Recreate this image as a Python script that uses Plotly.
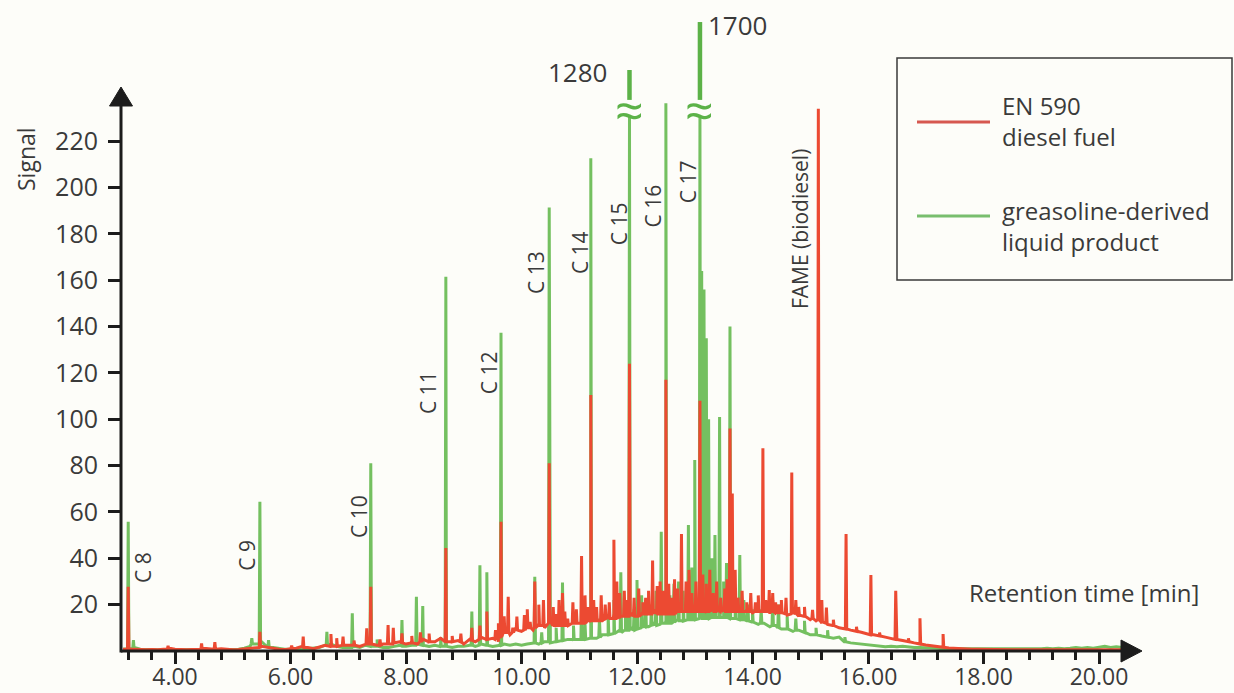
import numpy as np
import plotly.graph_objects as go

# ---------------- data ----------------
base_t = [round(3.1 + 0.1 * i, 2) for i in range(174)]   # sampling grid 3.1 .. 20.4 min

red_base = [0.8, 1.0, 0.8, 0.6, 0.5, 0.6, 0.5, 0.8, 1.2,
            0.8, 0.6, 0.5, 0.6, 0.8, 1.2, 0.8, 1.5, 1.0, 0.6,
            0.5, 0.6, 0.8, 1.0, 1.2, 2.0, 1.5, 1.0, 0.8, 0.6,
            1.0, 1.2, 2.0, 1.5, 1.0, 1.8, 2.5, 3.0, 2.0, 3.0,
            2.5, 3.5, 2.0, 3.0, 4.0, 2.5, 3.0, 2.5, 3.5, 4.0,
            3.0, 4.5, 3.0, 5.0, 3.5, 4.0, 5.5, 4.0, 3.5, 4.5,
            3.0, 5.0, 4.0, 6.0, 4.5, 5.5, 4.0, 9.0, 7.0, 10.0,
            8.5, 11.0, 9.0, 12.0, 10.0, 13.0, 10.5, 12.0, 11.0, 13.5,
            12.0, 14.0, 12.5, 15.0, 13.0, 14.5, 16.0, 14.0, 15.0, 16.5,
            15.0, 17.0, 15.5, 18.0, 16.0, 17.5, 16.0, 18.5, 17.0, 19.0,
            17.0, 18.5, 16.5, 19.0, 17.5, 18.0, 16.5, 18.5, 17.0, 18.0,
            16.5, 18.5, 17.0, 16.0, 18.0, 16.5, 15.5, 17.0, 15.0, 15.5,
            13.5, 13.0, 12.0, 11.5, 11.0, 10.0, 9.5, 9.0, 8.5, 8.0,
            7.5, 7.0, 6.5, 6.0, 5.5, 5.0, 4.5, 4.0, 3.5, 3.0,
            2.6, 2.2, 1.9, 1.6, 1.3, 1.1, 1.0, 0.9, 0.8, 0.8,
            0.7, 0.6, 0.6, 0.5, 0.5, 0.5, 0.5, 0.6, 0.5, 0.5,
            0.5, 0.5, 0.5, 0.6, 0.6, 0.5, 0.5, 0.5, 0.5, 0.5,
            0.5, 0.5, 0.6, 0.6, 0.5]

green_base = [0.8, 1.0, 1.5, 0.8, 0.6, 0.5, 0.5, 0.5, 0.5,
              0.5, 0.5, 0.6, 0.5, 0.5, 0.6, 0.5, 0.5, 0.6, 0.5,
              0.6, 0.8, 1.2, 2.0, 3.0, 4.0, 2.0, 1.5, 1.0, 0.8,
              0.8, 1.0, 0.8, 1.0, 1.2, 1.5, 2.5, 3.0, 2.0, 1.5,
              1.5, 2.0, 1.5, 2.5, 4.0, 2.0, 1.5, 1.5, 2.0, 2.5,
              2.0, 2.5, 3.0, 2.5, 2.0, 2.5, 3.0, 2.0, 1.5, 2.0,
              2.0, 2.5, 2.0, 3.0, 2.5, 2.0, 2.5, 3.0, 2.5, 3.0,
              2.5, 3.0, 3.5, 3.0, 4.0, 3.5, 4.5, 4.0, 5.0, 4.5,
              5.0, 5.5, 6.0, 5.5, 7.0, 7.5, 8.0, 9.0, 8.5, 10.0,
              9.5, 11.0, 10.5, 12.0, 11.5, 13.0, 12.0, 13.5, 12.5, 14.0,
              13.5, 15.0, 14.0, 15.5, 14.5, 15.0, 14.0, 14.5, 13.5, 13.0,
              12.5, 11.5, 12.0, 10.5, 11.0, 9.5, 10.0, 8.5, 9.0, 8.0,
              7.0, 7.5, 6.5, 6.0, 5.5, 6.0, 4.0, 3.5, 3.2, 3.0,
              2.6, 2.3, 2.0, 1.8, 2.0, 1.8, 2.0, 1.6, 1.5, 1.5,
              1.5, 1.2, 1.2, 1.0, 1.0, 1.0, 0.8, 0.8, 0.8, 0.8,
              0.8, 0.8, 0.8, 1.0, 0.8, 0.8, 1.0, 0.8, 1.0, 1.0,
              1.0, 1.2, 1.0, 1.2, 1.0, 1.2, 1.5, 1.2, 1.5, 1.2,
              1.5, 2.0, 1.5, 1.8, 1.5]

red_peak_t = [3.19, 3.88, 4.46, 4.69, 5.47, 6.02, 6.22, 6.70, 6.80, 6.91, 7.10, 7.32, 7.39,
              7.55, 7.69, 7.78, 7.93, 8.10, 8.25, 8.40, 8.69, 8.80, 8.95, 9.14, 9.28, 9.40,
              9.55, 9.645, 9.77, 9.85, 9.92, 10.05, 10.15, 10.23, 10.30, 10.48, 10.60, 10.71,
              10.80, 10.89, 10.95, 11.04, 11.20, 11.30, 11.45, 11.60, 11.70, 11.87, 11.95,
              12.10, 12.20, 12.27, 12.35, 12.50, 12.60, 12.70, 12.77, 12.85, 12.95, 13.09,
              13.20, 13.32, 13.45, 13.61, 13.65, 13.75, 13.90, 14.05, 14.18, 14.29, 14.40,
              14.50, 14.68, 14.80, 15.04, 15.14, 15.28, 15.40, 15.62, 15.80, 16.05, 16.20,
              16.48, 16.70, 16.90, 17.30]
red_peak_h = [27.7, 2.3, 3.3, 3.8, 8.3, 2.3, 6.2, 7.3, 5.5, 6.2, 4.5, 9.8, 27.7,
              5.0, 11.2, 10.0, 7.6, 6.5, 8.0, 7.5, 44.4, 6.5, 7.5, 10.0, 11.0, 17.0,
              9.0, 55.8, 23.4, 10.0, 14.8, 15.5, 12.5, 30.0, 20.0, 81.0, 16.0, 25.0,
              14.0, 21.0, 18.0, 41.0, 110.5, 19.0, 20.0, 48.0, 25.0, 124.0, 23.0,
              21.0, 26.0, 39.0, 28.0, 117.0, 23.0, 27.0, 50.5, 30.0, 25.0, 108.0,
              29.0, 25.0, 23.0, 96.0, 68.0, 23.0, 21.0, 21.0, 87.5, 26.3, 21.0,
              22.0, 77.0, 19.0, 17.7, 234.0, 18.7, 13.5, 50.5, 10.5, 32.8, 8.0,
              26.0, 5.5, 14.1, 7.3]
red_peak_foot = [0.8, 0.8, 0.6, 0.8, 1.5, 1.0, 1.5, 2.0, 2.0, 2.5, 2.5, 3.0, 3.0,
                 2.5, 3.0, 3.0, 3.5, 3.5, 4.0, 4.0, 4.0, 4.0, 4.0, 4.5, 5.0, 5.0,
                 5.0, 6.0, 8.0, 8.0, 9.0, 9.0, 10.0, 10.0, 11.0, 12.0, 11.0, 11.0,
                 11.0, 12.0, 12.0, 12.0, 13.0, 13.0, 14.0, 14.0, 15.0, 15.0, 15.0,
                 16.0, 16.0, 16.0, 16.0, 16.0, 16.0, 17.0, 17.0, 17.0, 17.0, 17.0,
                 17.0, 17.0, 17.0, 17.0, 17.0, 17.0, 17.0, 17.0, 17.0, 17.0, 16.5,
                 16.5, 16.0, 15.5, 14.0, 13.5, 12.0, 11.0, 9.5, 8.5, 7.0, 6.5,
                 5.0, 4.0, 3.0, 1.6]

# small "grass" spikes of the diesel trace
red_minor_t = [9.60, 9.70, 10.10, 10.38, 10.55, 10.65, 10.75, 11.10, 11.15, 11.25, 11.38,
               11.52, 11.65, 11.78, 11.83, 12.03, 12.15, 12.40, 12.45, 12.55, 12.65, 12.90,
               13.02, 13.14, 13.26, 13.38, 13.52, 13.56, 13.70, 13.82, 13.97, 14.10, 14.23,
               14.35, 14.45, 14.58, 14.75, 14.90, 15.20]
red_minor_h = [12, 15, 18, 22, 19, 22, 17, 24, 19, 22, 24,
               21, 30, 26, 22, 27, 23, 30, 26, 29, 31, 35,
               30, 33, 35, 30, 27, 31, 35, 26, 25, 24, 22,
               25, 20, 23, 22, 19, 22]
red_minor_foot = [6, 8, 10, 11, 11, 11, 11, 12, 13, 13, 13,
                  14, 14, 15, 15, 15, 16, 16, 16, 16, 16, 17,
                  17, 17, 17, 17, 17, 17, 17, 17, 17, 17, 17,
                  17, 16.5, 16, 16, 15, 12.5]

green_peak_t = [3.19, 3.28, 5.33, 5.47, 5.62, 6.63, 7.07, 7.39, 7.50, 7.93, 8.18, 8.29,
                8.60, 8.69, 9.14, 9.28, 9.40, 9.645, 10.23, 10.48, 10.71, 11.04, 11.20,
                11.72, 11.80, 11.87, 12.00, 12.15, 12.42, 12.50, 12.64, 12.89, 13.00,
                13.09, 13.12, 13.16, 13.20, 13.24, 13.30, 13.43, 13.50, 13.61, 13.78,
                14.00, 14.35, 14.60, 15.10, 15.30, 15.60]
green_peak_h = [55.8, 4.7, 5.5, 64.4, 4.7, 8.3, 16.3, 81.0, 5.0, 13.4, 23.4, 19.4,
                6.0, 161.5, 17.0, 37.0, 34.0, 137.3, 32.0, 191.4, 29.5, 20.0, 212.6,
                34.0, 20.0, 230.4, 30.6, 22.0, 51.5, 236.3, 29.0, 54.4, 82.4,
                230.4, 164.0, 156.0, 135.0, 100.0, 40.0, 101.0, 30.0, 140.0, 41.4,
                18.0, 22.0, 15.0, 10.0, 9.0, 6.0]
green_peak_foot = [1.0, 1.0, 3.0, 3.0, 1.5, 2.5, 1.5, 2.0, 2.0, 2.0, 2.5, 2.5,
                   2.0, 2.0, 2.5, 2.5, 2.5, 2.5, 3.5, 4.0, 4.5, 5.0, 5.5,
                   8.0, 9.0, 9.0, 9.5, 10.5, 12.0, 12.0, 12.5, 13.5, 13.5,
                   14.0, 14.0, 14.0, 14.0, 14.0, 14.5, 14.5, 14.5, 14.0, 13.5,
                   12.5, 11.0, 9.5, 7.0, 6.0, 4.0]

# small spikes of the greasoline-derived trace
green_minor_t = [10.35, 10.60, 10.90, 11.10, 11.35, 11.50, 11.60, 11.95, 12.08, 12.25, 12.33,
                 12.57, 12.72, 12.80, 12.95, 13.35, 13.55, 13.70, 13.85, 13.92, 14.15, 14.45,
                 14.75, 14.90]
green_minor_h = [8, 10, 11, 12, 14, 16, 22, 18, 24, 20, 26,
                 24, 30, 26, 36, 50, 38, 25, 22, 20, 18, 20,
                 14, 13]
green_minor_foot = [3.5, 4, 5, 5, 6, 7, 7.5, 9, 10, 11, 11,
                    12, 13, 13, 13.5, 14.5, 14.5, 14, 13.5, 13, 12, 10,
                    9, 8]

# off-scale peaks (drawn with an axis break)
break_t = [11.87, 13.09]
break_true = [1280, 1700]
break_stub_low = [237.8, 237.8]
break_stub_top = [250.7, 271.4]

peak_labels = ["C 8", "C 9", "C 10", "C 11", "C 12", "C 13", "C 14", "C 15", "C 16", "C 17",
               "FAME (biodiesel)"]
y_ticks = [20, 40, 60, 80, 100, 120, 140, 160, 180, 200, 220]

# ---------------- styling / layout constants ----------------
RED = "rgb(236,74,50)"
GREEN = "rgb(116,192,96)"
DARKGREEN = "rgb(92,178,72)"
INK = "#1c1c1c"
TXT = "#3a3a3a"
FONT = "Open Sans"
HALF = 0.012  # half-width of a drawn peak, minutes

label_x = [3.446, 5.242, 7.186, 8.381, 9.442, 10.251, 11.013, 11.694, 12.283, 12.889, 14.823]
label_y = [35.8, 41.4, 58.3, 111.3, 120.0, 163.1, 171.7, 184.3, 192.0, 202.4, 182.1]
value_label_x = [10.961, 13.732]
value_label_y = [249.8, 270.1]


def build(bt, by, peak_sets):
    pts = list(zip(bt, by))
    for pt, ph, pf in peak_sets:
        for t, h, f in zip(pt, ph, pf):
            pts += [(t - HALF, f), (t, h), (t + HALF, f)]
    pts.sort(key=lambda p: p[0])
    return [p[0] for p in pts], [p[1] for p in pts]


gx, gy = build(base_t, green_base, [(green_peak_t, green_peak_h, green_peak_foot),
                                    (green_minor_t, green_minor_h, green_minor_foot)])
rx, ry = build(base_t, red_base, [(red_peak_t, red_peak_h, red_peak_foot),
                                  (red_minor_t, red_minor_h, red_minor_foot)])

fig = go.Figure()
fig.add_trace(go.Scatter(x=gx, y=gy, mode="lines", line=dict(color=GREEN, width=3),
                         showlegend=False, hoverinfo="skip"))
fig.add_trace(go.Scatter(x=rx, y=ry, mode="lines", line=dict(color=RED, width=3),
                         showlegend=False, hoverinfo="skip"))
sx, sy = [], []
for t, lo, hi in zip(break_t, break_stub_low, break_stub_top):
    sx += [t, t, None]
    sy += [lo, hi, None]
fig.add_trace(go.Scatter(x=sx, y=sy, mode="lines", line=dict(color=DARKGREEN, width=4.5),
                         showlegend=False, hoverinfo="skip"))

# pixel geometry of the plot area
L, R, T, B = 121, 1145, 15, 651
W, H = 1234, 693
PXMIN = 57.75
PXUNIT = 2.3175
x0 = 4 - (175 - L) / PXMIN
x1 = x0 + (R - L) / PXMIN
y1 = (B - T) / PXUNIT


def px(xp):
    return (xp - L) / (R - L)


def py(yp):
    return (B - yp) / (B - T)


shapes = [
    dict(type="line", xref="paper", yref="paper", x0=0, x1=px(1123), y0=0, y1=0,
         line=dict(color=INK, width=3)),
    dict(type="path", xref="paper", yref="paper",
         path=f"M {px(1142)} 0 L {px(1121)} {11/(B-T)} L {px(1121)} {-11/(B-T)} Z",
         fillcolor=INK, line=dict(color=INK, width=1)),
    dict(type="line", xref="paper", yref="paper", x0=0, x1=0, y0=-1.5/(B-T), y1=py(104),
         line=dict(color=INK, width=3)),
    dict(type="path", xref="paper", yref="paper",
         path=f"M 0 {py(87)} L {11.5/(R-L)} {py(106)} L {-11.5/(R-L)} {py(106)} Z",
         fillcolor=INK, line=dict(color=INK, width=1)),
    # legend box
    dict(type="rect", xref="paper", yref="paper", x0=px(897), x1=px(1232), y0=py(280), y1=py(58),
         line=dict(color="#3a3a3a", width=1.5), fillcolor="rgba(0,0,0,0)"),
    dict(type="line", xref="paper", yref="paper", x0=px(917), x1=px(990), y0=py(122), y1=py(122),
         line=dict(color="rgb(214,88,80)", width=3)),
    dict(type="line", xref="paper", yref="paper", x0=px(917), x1=px(990), y0=py(216), y1=py(216),
         line=dict(color="rgb(120,190,110)", width=3)),
]

ann = []
for txt, xx, yy in zip(peak_labels, label_x, label_y):
    ann.append(dict(x=xx, y=yy, xref="x", yref="y", text=txt, showarrow=False, textangle=-90,
                    xanchor="center", yanchor="middle",
                    font=dict(family=FONT, size=21, color=TXT)))
for v, xx, yy in zip(break_true, value_label_x, value_label_y):
    ann.append(dict(x=xx, y=yy, xref="x", yref="y", text=str(v), showarrow=False,
                    xanchor="center", yanchor="middle",
                    font=dict(family=FONT, size=26, color=TXT)))
for t in break_t:
    ann.append(dict(x=t, y=233.5, xref="x", yref="y", text="≈", showarrow=False,
                    xanchor="center", yanchor="middle",
                    font=dict(family=FONT, size=50, color=DARKGREEN)))
ann += [
    dict(x=px(967), y=py(592), xref="paper", yref="paper", text="Retention time [min]",
         showarrow=False, xanchor="left", yanchor="middle",
         font=dict(family=FONT, size=24, color=TXT)),
    dict(x=px(26), y=py(159), xref="paper", yref="paper", text="Signal", showarrow=False,
         textangle=-90, xanchor="center", yanchor="middle",
         font=dict(family=FONT, size=23, color=TXT)),
    dict(x=px(1000), y=py(121), xref="paper", yref="paper", text="EN 590<br>diesel fuel",
         showarrow=False, xanchor="left", yanchor="middle", align="left",
         font=dict(family=FONT, size=24, color=TXT)),
    dict(x=px(1000), y=py(226), xref="paper", yref="paper",
         text="greasoline-derived<br>liquid product", showarrow=False, xanchor="left",
         yanchor="middle", align="left", font=dict(family=FONT, size=24, color=TXT)),
]

fig.update_layout(
    width=W, height=H, margin=dict(l=L, r=W - R, t=T, b=H - B, autoexpand=False),
    paper_bgcolor="#fdfdf9", plot_bgcolor="#fdfdf9",
    shapes=shapes, annotations=ann, showlegend=False,
    xaxis=dict(range=[x0, x1], tick0=0, dtick=2, tickformat=".2f", ticks="outside",
               ticklen=12, tickwidth=2.5, tickcolor=INK, showgrid=False, zeroline=False,
               showline=False, automargin=False, ticklabelstandoff=-7,
               tickfont=dict(family=FONT, size=23, color=TXT),
               minor=dict(tick0=0, dtick=0.4, ticks="outside", ticklen=8, tickwidth=2.5,
                          tickcolor=INK, showgrid=False)),
    yaxis=dict(range=[0, y1], tickmode="array", tickvals=y_ticks, ticks="outside",
               ticklen=12, tickwidth=2.5, tickcolor=INK, showgrid=False, zeroline=False,
               showline=False, ticklabelstandoff=5, automargin=False,
               tickfont=dict(family=FONT, size=25, color=TXT)),
)

fig.write_html("out.html", config={"displayModeBar": False},
               post_script="document.body.style.margin='0';document.body.style.overflow='hidden';")
